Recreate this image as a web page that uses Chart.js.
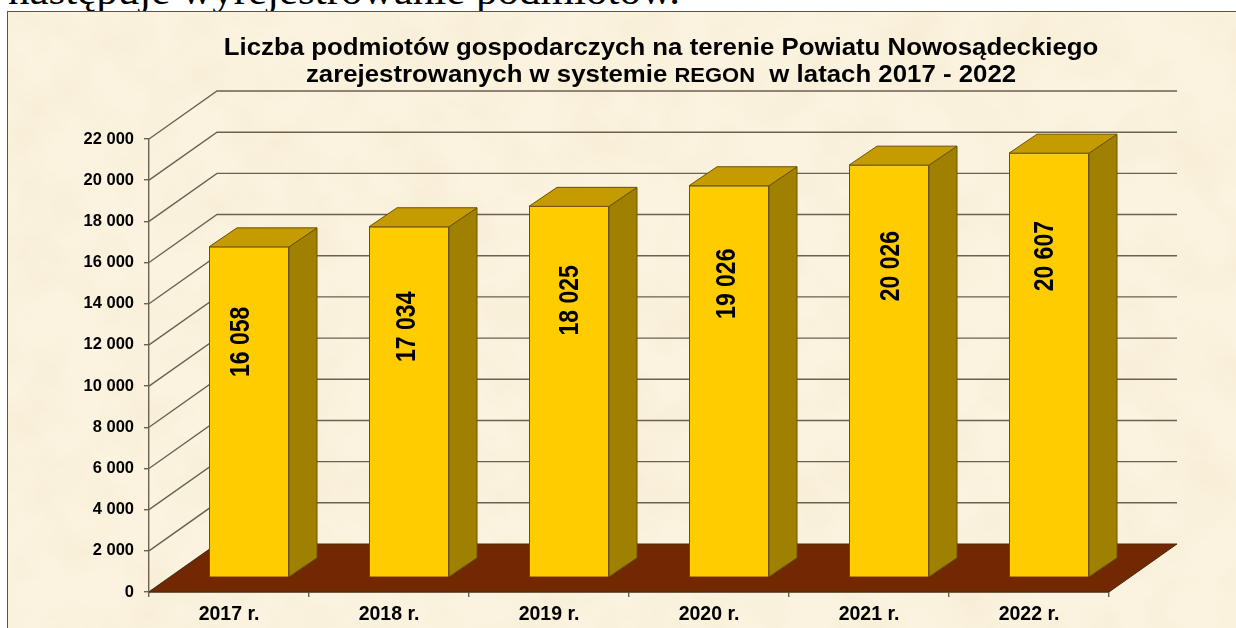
<!DOCTYPE html>
<html lang="pl">
<head>
<meta charset="utf-8">
<title>Liczba podmiotów gospodarczych</title>
<script src="https://cdn.jsdelivr.net/npm/chart.js@4/dist/chart.umd.min.js"></script>
<style>
html,body{margin:0;padding:0;background:#fff;width:1236px;height:628px;overflow:hidden}
#top{position:absolute;left:8px;top:-30.5px;font:40px "Liberation Serif",serif;color:#000;white-space:nowrap;line-height:42px;transform:scaleX(1.075);transform-origin:left center}
#stage{position:absolute;left:0;top:0;width:1236px;height:628px;filter:blur(0.45px)}
#box{position:absolute;left:7px;top:11px;right:0;bottom:0;background:#fbf3df;border-left:1.5px solid #5f5545;border-top:1.5px solid #5f5545;overflow:hidden}
#box svg{position:absolute;left:0;top:0;width:100%;height:100%}
canvas{position:absolute;left:0;top:0}
.t{position:absolute;left:0;width:1322px;text-align:center;font:bold 23.5px "Liberation Sans",Arial,sans-serif;color:#000;white-space:pre;line-height:26px;transform:scaleX(1.098);transform-origin:661px center}
.t span{font-size:20px}
</style>
</head>
<body>
<div id="top">następuje wyrejestrowanie podmiotów.</div>
<div id="stage">
  <div id="box">
    <svg xmlns="http://www.w3.org/2000/svg">
      <filter id="paper" x="0" y="0" width="100%" height="100%">
        <feTurbulence type="fractalNoise" baseFrequency="0.018" numOctaves="4" seed="7"/>
        <feColorMatrix type="matrix" values="0 0 0 0 0.93  0 0 0 0 0.84  0 0 0 0 0.66  1.5 0 0 0 -0.58"/>
      </filter>
      <rect width="100%" height="100%" filter="url(#paper)"/>
    </svg>
  </div>
  <canvas id="c" width="1236" height="628"></canvas>
  <div class="t" style="top:34px">Liczba podmiotów gospodarczych na terenie Powiatu Nowosądeckiego</div>
  <div class="t" style="top:61px">zarejestrowanych w systemie <span>REGON</span>  w latach 2017 - 2022</div>
</div>
<script>
const categories = ["2017 r.","2018 r.","2019 r.","2020 r.","2021 r.","2022 r."];
const values = [16058,17034,18025,19026,20026,20607];
const yMax = 22000;
const yStep = 2000;

// layout of the 3D look
const wallDX = 68, wallDY = 48;      // back wall offset from the front axis plane
const barDX = 20, barDY = 14.5;      // bar front offset from the front axis plane
const sideDX = 28, sideDY = 19;      // depth of each bar
const labelDX = [-8,-2,1,-2,2,-4];   // label nudge from the bar centre
const labelDrop = [95,100,94,98,101,103]; // label centre below the bar top

const GRID = "#6a6250", EDGE = "#6b5200";
const fmt = v => String(v).replace(/\B(?=(\d{3})+$)/g, " ");

const scene = {
  id: "scene",
  beforeDatasetsDraw(chart) {
    const {ctx, chartArea: a, scales: {y}} = chart;
    ctx.save();
    ctx.strokeStyle = GRID; ctx.lineWidth = 1.4;
    for (let v = 0; v <= yMax; v += yStep) {
      const p = y.getPixelForValue(v);
      ctx.beginPath();
      ctx.moveTo(a.left, p);
      ctx.lineTo(a.left + wallDX, p - wallDY);
      if (v > 0) ctx.lineTo(a.right + wallDX, p - wallDY);
      ctx.stroke();
    }
    const b = y.getPixelForValue(0);
    ctx.fillStyle = "#722800";
    ctx.beginPath();
    ctx.moveTo(a.left, b);
    ctx.lineTo(a.left + wallDX, b - wallDY);
    ctx.lineTo(a.right + wallDX, b - wallDY);
    ctx.lineTo(a.right, b);
    ctx.closePath();
    ctx.fill();
    ctx.strokeStyle = "#4a2a10"; ctx.lineWidth = 1;
    ctx.stroke();
    ctx.restore();
  },
  beforeDatasetDraw(chart, args) {
    const {ctx} = chart;
    ctx.save();
    ctx.translate(barDX, -barDY);
    ctx.strokeStyle = EDGE; ctx.lineWidth = 1;
    args.meta.data.forEach(el => {
      const l = el.x - el.width / 2, r = el.x + el.width / 2, t = el.y, bt = el.base;
      ctx.fillStyle = "#a08000";
      ctx.beginPath();
      ctx.moveTo(r, t); ctx.lineTo(r + sideDX, t - sideDY);
      ctx.lineTo(r + sideDX, bt - sideDY); ctx.lineTo(r, bt);
      ctx.closePath(); ctx.fill(); ctx.stroke();
      ctx.fillStyle = "#c49b00";
      ctx.beginPath();
      ctx.moveTo(l, t); ctx.lineTo(l + sideDX, t - sideDY);
      ctx.lineTo(r + sideDX, t - sideDY); ctx.lineTo(r, t);
      ctx.closePath(); ctx.fill(); ctx.stroke();
    });
  },
  afterDatasetDraw(chart) { chart.ctx.restore(); },
  afterDatasetsDraw(chart) {
    const {ctx} = chart;
    chart.getDatasetMeta(0).data.forEach((el, i) => {
      ctx.save();
      ctx.translate(el.x + barDX + labelDX[i], el.y - barDY + labelDrop[i]);
      ctx.rotate(-Math.PI / 2);
      ctx.scale(1, 1.2);
      ctx.font = 'bold 23px "Liberation Sans", Arial, sans-serif';
      ctx.fillStyle = "#000";
      ctx.textAlign = "center";
      ctx.textBaseline = "middle";
      ctx.fillText(fmt(values[i]), 0, 0);
      ctx.restore();
    });
  }
};

new Chart(document.getElementById("c"), {
  type: "bar",
  data: {
    labels: categories,
    datasets: [{
      data: values,
      backgroundColor: "#ffcc00",
      borderColor: EDGE,
      borderWidth: 1,
      barPercentage: 0.5,
      categoryPercentage: 1,
      clip: false
    }]
  },
  plugins: [scene],
  options: {
    responsive: false,
    animation: false,
    layout: {padding: {top: 139, right: 127, left: 0, bottom: 0}},
    plugins: {legend: {display: false}, tooltip: {enabled: false}, title: {display: false}},
    scales: {
      x: {
        afterFit(s) { s.height = 36; },
        grid: {drawOnChartArea: false, drawTicks: true, tickLength: 5, color: GRID, lineWidth: 1.4},
        border: {display: true, color: "#4a2a10", width: 1.4},
        ticks: {color: "#000", padding: 6, maxRotation: 0, font: {family: '"Liberation Sans", Arial, sans-serif', size: 19.5, weight: "bold"}}
      },
      y: {
        min: 0, max: yMax,
        afterFit(s) { s.width = 149; },
        grid: {drawOnChartArea: false, drawTicks: true, tickLength: 5, color: GRID, lineWidth: 1.4},
        border: {display: true, color: GRID, width: 1.4},
        ticks: {stepSize: yStep, color: "#000", padding: 10, callback: v => fmt(v), font: {family: '"Liberation Sans", Arial, sans-serif', size: 16.5, weight: "bold"}}
      }
    }
  }
});
</script>
</body>
</html>
